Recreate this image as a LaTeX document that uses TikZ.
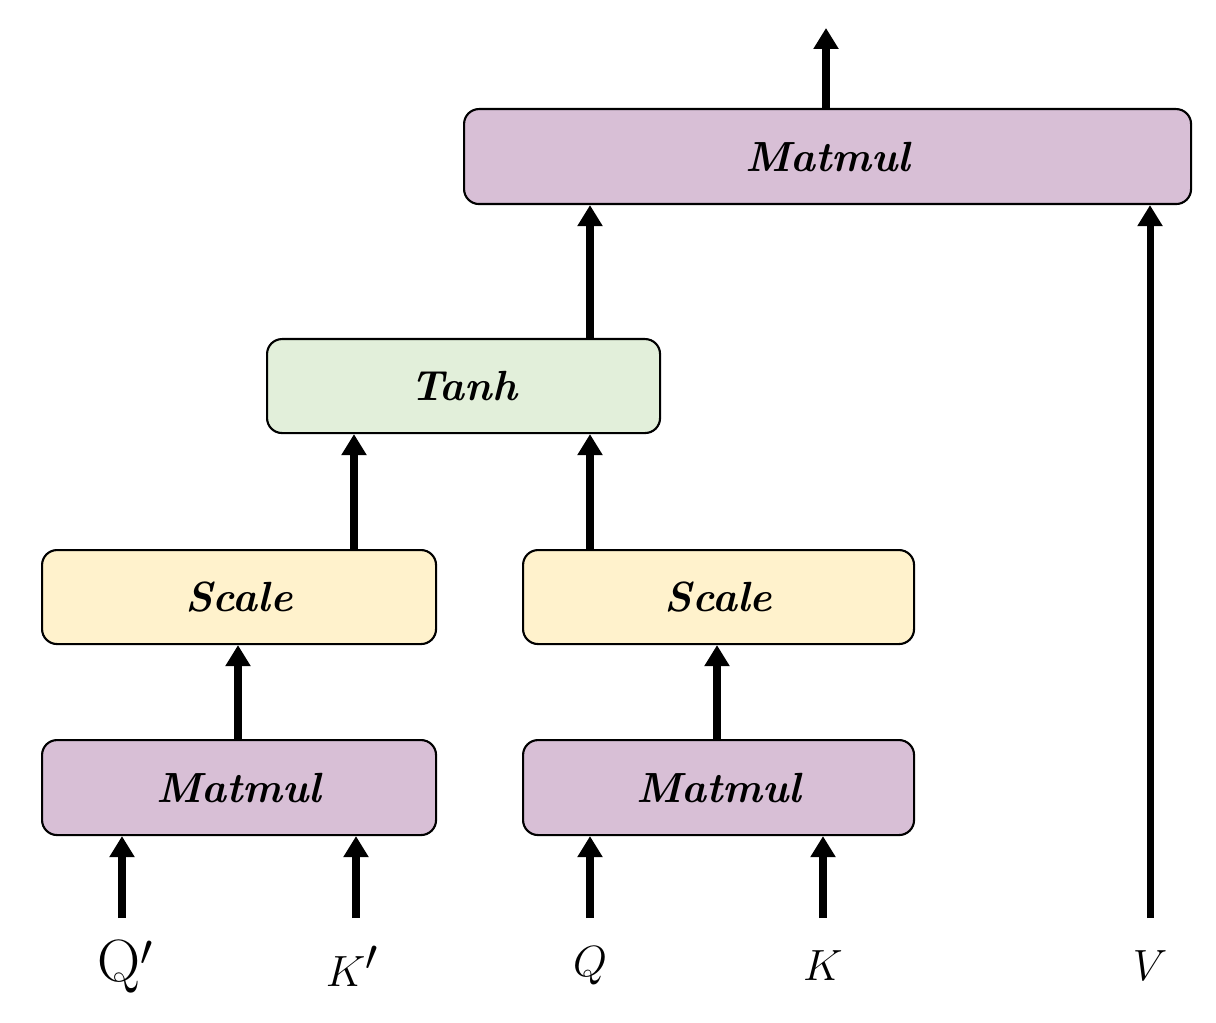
\documentclass[tikz,border=0pt]{standalone}
\usetikzlibrary{arrows.meta}
\begin{document}
\begin{tikzpicture}[x=0.02cm,y=-0.02cm,
 box/.style={draw=black,line width=1.2pt,rounded corners=0.3cm,anchor=north west,inner sep=0pt,font=\fontsize{24}{28}\selectfont\bfseries\itshape},
 pur/.style={fill=purple!25!white!85!gray,fill={rgb,255:red,216;green,191;blue,214}},
 grn/.style={fill={rgb,255:red,226;green,239;blue,218}},
 yel/.style={fill={rgb,255:red,255;green,242;blue,204}},
 arr/.style={line width=4pt,-{Triangle[length=0.42cm,width=0.48cm]}},
 lab/.style={font=\fontsize{34}{38}\selectfont}]
\useasboundingbox (0,0) rectangle (1216,1023);
\node[box,pur,minimum width=727*0.02cm,minimum height=95*0.02cm] (top) at (463,108) {Matmul};
\node[box,grn,minimum width=393*0.02cm,minimum height=94*0.02cm] (tanh) at (266,338) {Tanh};
\node[box,yel,minimum width=394*0.02cm,minimum height=94*0.02cm] (s1) at (41,549) {Scale};
\node[box,yel,minimum width=391*0.02cm,minimum height=94*0.02cm] (s2) at (522,549) {Scale};
\node[box,pur,minimum width=394*0.02cm,minimum height=95*0.02cm] (m1) at (41,739) {Matmul};
\node[box,pur,minimum width=391*0.02cm,minimum height=95*0.02cm] (m2) at (522,739) {Matmul};
\coordinate (out) at (826,28);
\coordinate (iq1) at (122,918); \coordinate (ik1) at (356,918);
\coordinate (iq) at (590,918); \coordinate (ik) at (823,918);
\coordinate (iv) at (1150,918);
\draw[arr] (top.north -| out) -- (out);
\draw[arr] (tanh.north -| 590,0) -- (top.south -| 590,0);
\draw[arr] (iv) -- (top.south -| iv);
\draw[arr] (s1.north -| 354,0) -- (tanh.south -| 354,0);
\draw[arr] (s2.north -| 590,0) -- (tanh.south -| 590,0);
\draw[arr] (m1.north -| 238,0) -- (s1.south -| 238,0);
\draw[arr] (m2.north -| 717,0) -- (s2.south -| 717,0);
\draw[arr] (iq1) -- (m1.south -| iq1);
\draw[arr] (ik1) -- (m1.south -| ik1);
\draw[arr] (iq) -- (m2.south -| iq);
\draw[arr] (ik) -- (m2.south -| ik);
\node[lab] (lq1) at (125,966) {Q$'$};
\node[lab] (lk1) at (352,966) {$K'$};
\node[lab] (lq) at (590,966) {$Q$};
\node[lab] (lk) at (823,966) {$K$};
\node[lab] (lv) at (1150,966) {$V$};
\end{tikzpicture}
\end{document}
